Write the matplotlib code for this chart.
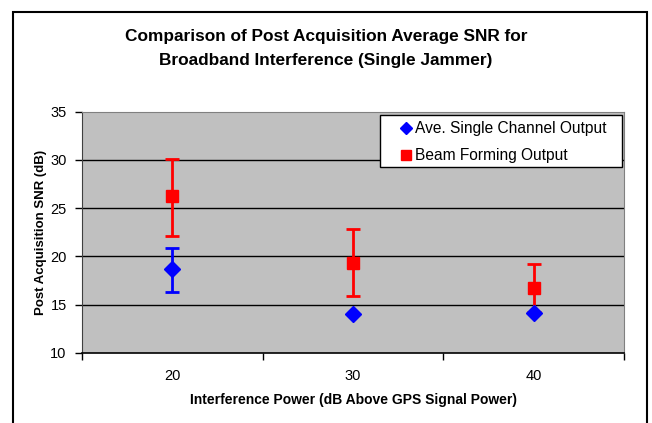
import matplotlib.pyplot as plt
from matplotlib.patches import Rectangle
import numpy as np

plt.rcParams['font.family'] = ['Liberation Sans', 'DejaVu Sans']

categories = ['20', '30', '40']
single_snr = [18.65, 14.0, 14.1]
single_lo = [2.35, 0.0, 0.0]
single_hi = [2.25, 0.0, 0.0]
beam_snr = [26.3, 19.3, 16.7]
beam_lo = [4.2, 3.4, 2.5]
beam_hi = [3.8, 3.5, 2.5]

fig = plt.figure(figsize=(6.52, 4.23), dpi=100)
W, H = 652, 423
ax = fig.add_axes([82 / W, (H - 352.7) / H, (624 - 82) / W, (352.7 - 111.7) / H])

# outer chart border
fig.patches.append(Rectangle((13 / W, -0.05), (647 - 13) / W, (H - 12) / H + 0.05,
                             transform=fig.transFigure, fill=False,
                             edgecolor='black', linewidth=1.5))

x = np.arange(len(categories))
ax.set_facecolor('#C0C0C0')
for yv in [15, 20, 25, 30]:
    ax.axhline(yv, color='black', linewidth=1.0, zorder=1)

ax.errorbar(x, single_snr, yerr=[single_lo, single_hi], fmt='D', color='#0000FF',
            markersize=8, elinewidth=2, capsize=5, capthick=2, zorder=3,
            label='Ave. Single Channel Output')
ax.errorbar(x, beam_snr, yerr=[beam_lo, beam_hi], fmt='s', color='#FF0000',
            markersize=8.5, elinewidth=2, capsize=5, capthick=2, zorder=2,
            label='Beam Forming Output')

ax.set_xlim(-0.5, 2.5)
ax.set_ylim(10, 35)
ax.set_yticks([10, 15, 20, 25, 30, 35])
ax.set_xticks(x)
ax.set_xticklabels(categories)
ax.set_xticks([-0.5, 0.5, 1.5, 2.5], minor=True)
ax.tick_params(axis='x', which='major', length=0, pad=12, labelsize=10.5)
ax.tick_params(axis='x', which='minor', length=5, direction='out', width=1)
ax.tick_params(axis='y', length=5, direction='out', width=1, labelsize=10.5, pad=6)

for s in ['top', 'right']:
    ax.spines[s].set_color('#808080')
ax.spines['left'].set_color('#404040')
ax.spines['bottom'].set_color('black')
ax.spines['bottom'].set_linewidth(1.2)

ax.set_xlabel('Interference Power (dB Above GPS Signal Power)', fontsize=10,
              fontweight='bold', labelpad=7)
ax.set_ylabel('Post Acquisition SNR (dB)', fontsize=9.5, fontweight='bold', labelpad=2.5)

fig.text(326 / W, 1 - 36 / H, 'Comparison of Post Acquisition Average SNR for',
         ha='center', va='center', fontsize=12.4, fontweight='bold')
fig.text(326 / W, 1 - 60 / H, 'Broadband Interference (Single Jammer)',
         ha='center', va='center', fontsize=12.4, fontweight='bold')

# legend box
ax.add_patch(Rectangle((0.5498, 0.7705), 0.9963 - 0.5498, 0.9863 - 0.7705,
                       transform=ax.transAxes, facecolor='white', edgecolor='black',
                       linewidth=1.0, zorder=4))
handles, labels = ax.get_legend_handles_labels()
handles = [h[0] for h in handles]
leg = ax.legend(handles, labels, loc='upper left', bbox_to_anchor=(0.588, 0.960),
                fontsize=11.2, frameon=False, handlelength=0.7, handletextpad=0.25,
                borderpad=0, labelspacing=0.75, markerscale=0.8, borderaxespad=0)
leg.set_zorder(5)

plt.savefig('out.png', dpi=100)
